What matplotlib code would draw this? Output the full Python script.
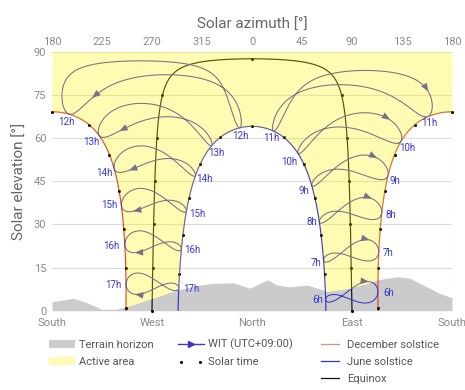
import numpy as np
import matplotlib
matplotlib.use("Agg")
import matplotlib.pyplot as plt
from matplotlib.lines import Line2D
from matplotlib.patches import Patch
from matplotlib.legend_handler import HandlerLine2D

plt.rcParams['font.family'] = ['Roboto', 'DejaVu Sans']

# ---------------- data ----------------
LATITUDE = -2.53          # site latitude (deg)
LONGITUDE = 140.72        # site longitude (deg)
UTC_OFFSET = 9.0          # WIT
CLOCK_HOURS = [6, 7, 8, 9, 10, 11, 12, 13, 14, 15, 16, 17]
HOUR_LABELS = ["6h", "7h", "8h", "9h", "10h", "11h", "12h", "13h", "14h", "15h", "16h", "17h"]
SOLAR_HOURS = [6, 7, 8, 9, 10, 11, 12, 13, 14, 15, 16, 17, 18]
PATH_NAMES = ["December solstice", "June solstice", "Equinox"]
PATH_DECLINATIONS = [-23.44, 23.44, 0.0]
DEC_SOLSTICE_DAY = 355
JUNE_SOLSTICE_DAY = 172
ARROW_DAY = 308
TOP_TICK_LABELS = ["180", "225", "270", "315", "0", "45", "90", "135", "180"]
BOTTOM_TICK_LABELS = ["South", "West", "North", "East", "South"]
# terrain horizon: position measured from South through West (deg) and elevation (deg)
TERRAIN_FROM_SOUTH = [0, 19, 30, 45, 57, 67.5, 88, 112.5, 133, 145, 163, 178, 194, 202.5,
                      214, 229.5, 244, 246, 268, 283.5, 292.5, 310.5, 322, 334, 349, 360]
TERRAIN_ELEV = [3.1, 4.3, 3.0, 0.5, 0.5, 1.4, 4.0, 7.2, 8.9, 9.5, 9.7, 7.8, 10.7, 8.9,
                8.3, 8.9, 7.2, 6.6, 7.8, 9.5, 10.7, 11.8, 11.3, 8.9, 6.0, 4.5]

# ---------------- styles ----------------
DEC_COLOR = "#d8402e"
JUNE_COLOR = "#3434c8"
EQX_COLOR = "#111111"
PATH_COLORS = [DEC_COLOR, JUNE_COLOR, EQX_COLOR]
ANA_COLOR = "#3a3ac4"
LABEL_COLOR = "#3535d0"
TERRAIN_COLOR = "#cbcbcb"
YELLOW = "#fff200"
YELLOW_ALPHA = 0.3
TICK_COLOR = "#8a8a8a"
AXLABEL_COLOR = "#666666"
# label placement (ha, dx px, dy px downward) for December / June solstice ends
DEC_LABEL_POS = {6: ("left", 5, 2), 7: ("left", 4, 1), 8: ("left", 4, 2), 9: ("left", 1, 6),
                 10: ("left", -2, 7), 11: ("center", 1, 7), 12: ("center", -3, 8),
                 13: ("right", 0, 6), 14: ("right", -2, 4), 15: ("right", -4, -1),
                 16: ("right", -5, 1), 17: ("right", -5, 0)}
JUNE_LABEL_POS = {6: ("right", -3, 1), 7: ("right", -2, 3), 8: ("right", -2, 0), 9: ("right", -2, 6),
                  10: ("right", -1, 9), 11: ("center", -2, 7), 12: ("center", 1, 8),
                  13: ("left", -4, 7), 14: ("left", 1, 3), 15: ("left", 3, 3),
                  16: ("left", 3, 1), 17: ("left", 4, 1)}


def declination_eot(day):
    g = 2 * np.pi / 365.0 * (np.asarray(day, float) - 1)
    decl = (0.006918 - 0.399912 * np.cos(g) + 0.070257 * np.sin(g) - 0.006758 * np.cos(2 * g)
            + 0.000907 * np.sin(2 * g) - 0.002697 * np.cos(3 * g) + 0.00148 * np.sin(3 * g))
    eot = 229.18 * (0.000075 + 0.001868 * np.cos(g) - 0.032077 * np.sin(g)
                    - 0.014615 * np.cos(2 * g) - 0.040849 * np.sin(2 * g))
    return np.degrees(decl), eot


def sun_position(decl, ha):
    la, d, h = np.radians(LATITUDE), np.radians(decl), np.radians(ha)
    sin_el = np.sin(la) * np.sin(d) + np.cos(la) * np.cos(d) * np.cos(h)
    el = np.degrees(np.arcsin(np.clip(sin_el, -1, 1)))
    az = np.degrees(np.arctan2(-np.sin(h) * np.cos(d),
                               np.cos(la) * np.sin(d) - np.sin(la) * np.cos(d) * np.cos(h))) % 360
    return az, el


def to_x(az, afternoon):
    x = (np.asarray(az) - 180.0) % 360.0
    if afternoon:
        return np.where(x > 270, x - 360, x)
    return np.where(x < 90, x + 360, x)


W, H = 465, 390
PT = 72.0 / 100.0  # points per pixel
fig = plt.figure(figsize=(W / 100, H / 100), dpi=100)
ax = fig.add_axes([52 / W, (H - 310.7) / H, 400 / W, 259.2 / H])
ax.set_xlim(0, 360)
ax.set_ylim(0, 90)
for s in ax.spines.values():
    s.set_visible(False)

# grid
ax.set_yticks([0, 15, 30, 45, 60, 75, 90])
ax.yaxis.grid(True, color="#dcdcdc", lw=0.8, zorder=0.5)
ax.set_axisbelow(True)

# terrain
ax.fill_between(TERRAIN_FROM_SOUTH, 0, TERRAIN_ELEV, color=TERRAIN_COLOR, lw=0, zorder=1)

# day paths
ha_m = np.arange(-180, 0.0001, 0.1)
ha_a = np.arange(0, 180.0001, 0.1)
bounds = []
for name, decl, col in zip(PATH_NAMES, PATH_DECLINATIONS, PATH_COLORS):
    for ha, aft in ((ha_m, False), (ha_a, True)):
        az, el = sun_position(decl, ha)
        x = to_x(az, aft)
        m = el >= 0
        ax.plot(x[m], el[m], color=col, lw=0.85, zorder=2)
        if name != "Equinox":
            bounds.append((x[m], el[m]))
    # solar time dots
    for h in SOLAR_HOURS:
        ha = 15.0 * (h - 12)
        az, el = sun_position(decl, ha)
        if el < -0.3:
            continue
        el = max(el, 0.0)
        if h == 12 and name == "December solstice":
            xs = [0.0, 360.0]
        else:
            xs = [float(to_x(az, ha >= 0))]
        for xx in xs:
            ax.plot([xx], [el], "o", color="black", ms=2.2, mew=0, zorder=3, clip_on=False)

# analemmas
days = np.arange(1, 366)
decl_y, eot_y = declination_eot(days)
label_pts = []
for h, lab in zip(CLOCK_HOURS, HOUR_LABELS):
    solar_t = h + (LONGITUDE - 15 * UTC_OFFSET) / 15.0 + eot_y / 60.0
    ha = 15.0 * (solar_t - 12)
    aft = h >= 12
    az, el = sun_position(decl_y, ha)
    x = to_x(az, aft)
    xc = np.append(x, x[0])
    ec = np.append(el, el[0])
    ec = np.where(ec < 0, np.nan, ec)
    ax.plot(xc, ec, color=ANA_COLOR, lw=0.75, zorder=2)
    i = ARROW_DAY - 1
    ax.annotate("", xy=(x[i + 1], el[i + 1]), xytext=(x[i], el[i]),
                arrowprops=dict(arrowstyle="-|>,head_length=0.75,head_width=0.3",
                                color=ANA_COLOR, lw=0, shrinkA=0, shrinkB=0,
                                mutation_scale=8), zorder=2.5)
    dd = DEC_SOLSTICE_DAY - 1
    jd = JUNE_SOLSTICE_DAY - 1
    label_pts.append((h, lab, (x[dd], el[dd]), (x[jd], el[jd])))

# active area (yellow overlay)
xg = np.arange(0, 360.001, 0.1)
lower = np.zeros_like(xg)
for bx, be in bounds:
    o = np.argsort(bx)
    bx, be = bx[o], be[o]
    inside = (xg >= bx[0]) & (xg <= bx[-1])
    lower[inside] = np.interp(xg[inside], bx, be)
terr = np.interp(xg, TERRAIN_FROM_SOUTH, TERRAIN_ELEV)
lower = np.maximum(lower, terr)
ax.fill_between(xg, lower, 90, color=YELLOW, alpha=YELLOW_ALPHA, lw=0, zorder=4)

# hour labels
for h, lab, dp, jp in label_pts:
    for pt, pos in ((dp, DEC_LABEL_POS[h]), (jp, JUNE_LABEL_POS[h])):
        hal, dx, dy = pos
        ax.annotate(lab, xy=pt, xytext=(dx * PT, -dy * PT), textcoords="offset points",
                    ha=hal, va="center", color=LABEL_COLOR, fontsize=7, zorder=6)

# axes ticks and labels
xt = [0, 45, 90, 135, 180, 225, 270, 315, 360]
ax.set_xticks([0, 90, 180, 270, 360], BOTTOM_TICK_LABELS)
ax.tick_params(axis="both", length=0, colors=TICK_COLOR, labelsize=8)
ax.tick_params(axis="x", pad=5)
ax.tick_params(axis="y", pad=4)
sec = ax.secondary_xaxis("top")
sec.set_xticks(xt, TOP_TICK_LABELS)
sec.tick_params(length=0, colors=TICK_COLOR, labelsize=8, pad=3)
for s in sec.spines.values():
    s.set_visible(False)
sec.set_xlabel("Solar azimuth [°]", color=AXLABEL_COLOR, fontsize=11, labelpad=6)
ax.set_ylabel("Solar elevation [°]", color=AXLABEL_COLOR, fontsize=11, labelpad=5)

# legend
blank = Line2D([], [], linestyle="none")
wit = Line2D([], [], color=ANA_COLOR, lw=1, marker=">", ms=4.5)
handles = [
    Patch(facecolor=TERRAIN_COLOR, edgecolor="none"),
    Patch(facecolor=YELLOW, alpha=YELLOW_ALPHA, edgecolor="none"),
    blank,
    wit,
    Line2D([], [], color="black", linestyle="none", marker="o", ms=2.2, mew=0),
    blank,
    Line2D([], [], color=DEC_COLOR, lw=0.9, alpha=0.6),
    Line2D([], [], color=JUNE_COLOR, lw=0.9),
    Line2D([], [], color=EQX_COLOR, lw=0.9),
]
labels = ["Terrain horizon", "Active area", "", "WIT (UTC+09:00)", "Solar time", "",
          "December solstice", "June solstice", "Equinox"]
leg = fig.legend(handles, labels, ncol=3, loc="upper left", bbox_to_anchor=(49 / W, 1 - 339 / H),
                 frameon=False, fontsize=8, labelcolor="#555555", handlelength=2.3,
                 handletextpad=0.4, columnspacing=2.2, labelspacing=0.62, borderpad=0,
                 borderaxespad=0, numpoints=2, handler_map={wit: HandlerLine2D(numpoints=1)})

fig.savefig("out.png", dpi=100)
